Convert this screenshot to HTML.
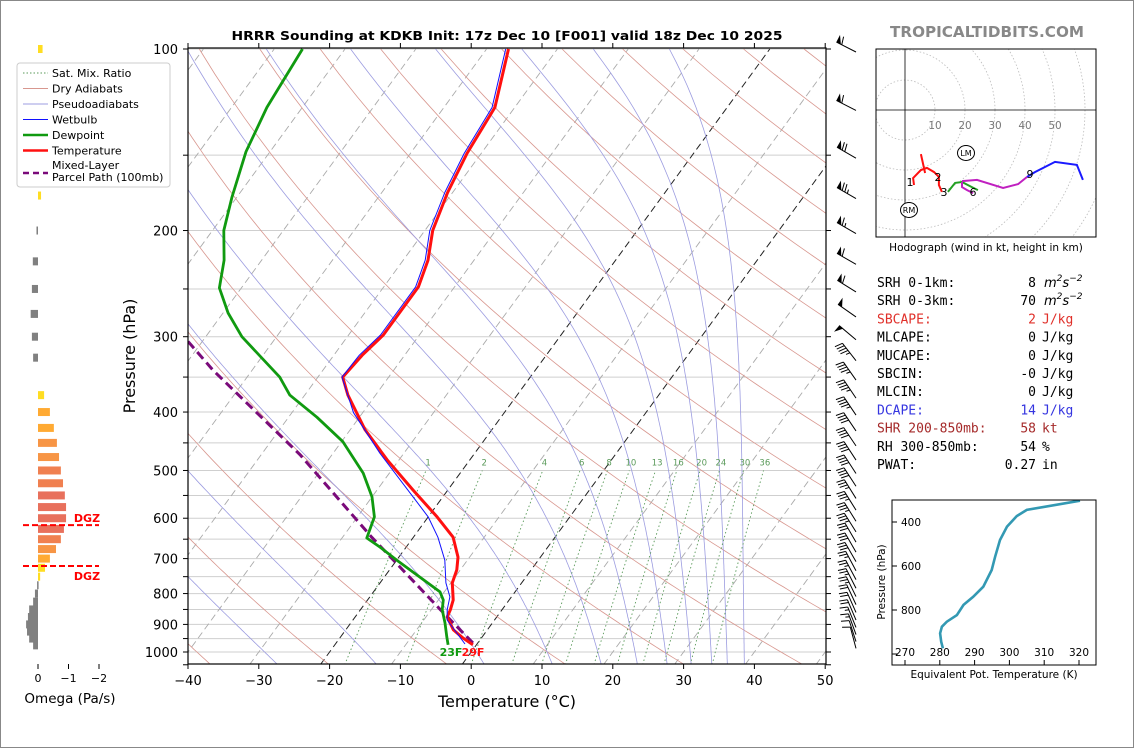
<!DOCTYPE html>
<html><head><meta charset="utf-8"><style>
html,body{margin:0;padding:0;background:#fff;}
svg{display:block;font-family:"DejaVu Sans","Liberation Sans",sans-serif;}
</style></head><body>
<svg id="svg" width="1134" height="748" viewBox="0 0 1134 748" xmlns="http://www.w3.org/2000/svg">
<rect x="0.5" y="0.5" width="1133" height="747" fill="#fff" stroke="#888"/>
<defs>
<clipPath id="plotclip"><rect x="188" y="48" width="638" height="616"/></clipPath>
<clipPath id="hodoclip"><rect x="876" y="49" width="220" height="188"/></clipPath>
<clipPath id="theclip"><rect x="892" y="500" width="204" height="165"/></clipPath>
</defs>
<text x="507" y="40" text-anchor="middle" font-size="12.5" font-weight="bold" textLength="551" lengthAdjust="spacingAndGlyphs">HRRR Sounding at KDKB Init: 17z Dec 10 [F001] valid 18z Dec 10 2025</text>
<text x="987" y="37" text-anchor="middle" font-size="15" font-weight="bold" fill="#888" textLength="194" lengthAdjust="spacingAndGlyphs">TROPICALTIDBITS.COM</text>
<g id="bg" clip-path="url(#plotclip)"></g>
<g id="prof" clip-path="url(#plotclip)"></g>
<g id="axes"></g>
<g id="barbs"></g>
<g id="omega"></g>
<g id="hodo"></g>
<g id="thetae"></g>
<g id="stats"></g>
<g id="legend"></g>
</svg>
<script>
// ---- data ----
const tempP=[973,948,919,875,851,820,768,731,696,645,597,539,480,428,375,350,322,298,248,224,200,173,149,125,100];
const tempT=[-0.5,-2.6,-4.8,-7.0,-7.3,-7.9,-9.8,-10.5,-11.65,-14.4,-18.75,-24.9,-31.7,-37.9,-43.9,-46.5,-46.0,-45.1,-45.1,-46.5,-48.9,-50.7,-52.0,-52.8,-56.9];
const dewP=[973,944,895,851,820,795,751,704,670,647,597,553,505,448,408,375,350,300,274,249,224,200,176,148,125,100];
const dewT=[-4.0,-5.0,-6.7,-8.45,-9.3,-10.6,-15.0,-20.0,-23.7,-26.5,-27.6,-30.0,-33.7,-39.8,-46.0,-52.1,-55.4,-64.9,-69.3,-73.1,-75.3,-78.4,-80.7,-83.4,-85.0,-86.0];
const wbP=[970,930,885,851,810,768,704,645,597,553,468,401,350,322,298,248,224,200,173,149,125,100];
const wbT=[-1.7,-4.0,-6.7,-7.75,-8.7,-10.7,-13.2,-16.55,-20.0,-24.2,-33.4,-41.3,-46.6,-46.4,-45.5,-45.5,-46.9,-49.3,-51.1,-52.4,-53.2,-57.3];
const parcelP=[966,851,645,471,341,305];
const parcelT=[-0.7,-8.7,-25.9,-44.5,-65.5,-72.1];
const mixRatios=[1,2,4,6,8,10,13,16,20,24,30,36];
const dryThetaK=[234.4,250.9,267.4,283.9,300.4,316.9,333.4,349.9,366.4,382.9,399.4,415.9,432.4,448.9,465.4,481.9,498.4,514.9,531.4];
const moistT1050=[-26,-12,3.2,12.8,19.7,24.8,29,32.4,35.3,37.5,39.9];
const xTicks=[-40,-30,-20,-10,0,10,20,30,40,50];
const pTicks=[100,200,300,400,500,600,700,800,900,1000];
const barbP=[100,125,150,175,200,225,250,275,300,325,350,375,400,425,450,475,500,525,550,575,600,625,650,675,700,725,750,775,800,825,850,875,900,925,950,975];
const barbSpd=[60,60,70,75,65,60,60,50,50,45,45,45,45,40,40,40,40,40,35,35,35,35,30,30,30,25,25,25,25,20,20,20,15,15,10,10];
const barbDir=[297,297,300,300,300,300,302,305,310,322,325,326,326,326,326,327,327,327,328,328,328,328,330,330,330,332,332,333,334,335,336,337,338,340,342,345];
const omegaP=[100,125,150,175,200,225,250,275,300,325,375,400,425,450,475,500,525,550,575,600,625,650,675,700,725,750,775,800,825,850,875,900,925,950,975];
const omegaV=[-0.15,-0.15,-0.15,-0.1,0.05,0.17,0.2,0.24,0.2,0.16,-0.2,-0.39,-0.52,-0.62,-0.69,-0.75,-0.82,-0.88,-0.92,-0.92,-0.85,-0.75,-0.59,-0.39,-0.23,-0.07,0.03,0.1,0.16,0.29,0.33,0.39,0.36,0.29,0.16];
const dgzP=[616,720];
const hodoRed=[[3,-25],[2.7,-22.7],[5.3,-20],[7.3,-19.3],[9.7,-20.7],[11.3,-22.3],[11.3,-25],[12.3,-27.3]];
const hodoRedSpike=[[5.3,-14.7],[6.7,-21]];
const hodoGreen=[[14.3,-27.3],[16.7,-24.3],[19,-24],[22.3,-25.7],[24.3,-26.7]];
const hodoMag1=[[19,-24],[19,-25.7],[20.7,-26.7],[22.7,-27.7]];
const hodoMag2=[[19,-23.7],[24,-23.3],[32.7,-26],[37.7,-24.7],[40.7,-22.3]];
const hodoBlue=[[40.7,-22.3],[43.3,-20.7],[50,-17.3],[57.3,-18.3],[59.3,-23.3]];
const thetaE=[320.3,305.0,302.1,299.3,297.3,295.9,294.9,292.5,289.6,286.8,284.9,282.0,280.6,280.1,280.4,280.9];
const thetaEP=[303,345,373,421,482,558,618,694,740,777,823,853,876,906,944,974];
const statLabels=["SRH 0-1km:","SRH 0-3km:","SBCAPE:","MLCAPE:","MUCAPE:","SBCIN:","MLCIN:","DCAPE:","SHR 200-850mb:","RH 300-850mb:","PWAT:"];
const statValues=["8","70","2","0","0","-0","0","14","58","54","0.27"];
const statUnits=["m2s-2","m2s-2","J/kg","J/kg","J/kg","J/kg","J/kg","J/kg","kt","%","in"];
const statColors=["#000","#000","#e0302a","#000","#000","#000","#000","#3535e0","#a52a2a","#000","#000"];

// ---- helpers ----
const NS="http://www.w3.org/2000/svg";
function mk(tag,attrs,parent,txt){const e=document.createElementNS(NS,tag);for(const k in attrs)e.setAttribute(k,attrs[k]);if(txt!==undefined)e.textContent=txt;parent.appendChild(e);return e;}
const yP=p=>49+(Math.log10(p)-2)*603;
const xT=(T,p)=>188+(T+40)*7.08+(652-yP(p))*0.73;
function pts(Ts,Ps){return Ts.map((t,i)=>xT(t,Ps[i]).toFixed(1)+","+yP(Ps[i]).toFixed(1)).join(" ");}
const bg=document.getElementById('bg'),prof=document.getElementById('prof'),axes=document.getElementById('axes');

// grid lines
for(let p=100;p<=1050;p+=50){const l=mk('line',{x1:188,x2:826,y1:yP(p),y2:yP(p),stroke:'#cfcfcf','stroke-width':1},bg);

}
// isotherms
for(let T=-120;T<=50;T+=10){const black=(T===0||T===-20);const l=mk('line',{x1:xT(T,1050),y1:yP(1050),x2:xT(T,100),y2:yP(100),stroke:black?'#222':'#aaa','stroke-width':black?1:0.9,'stroke-dasharray':'7,4'},bg);

}
// dry adiabats
dryThetaK.forEach(th=>{const a=[];for(let p=1050;p>=100;p-=10){const T=th*Math.pow(p/1000,0.286)-273.15;a.push(xT(T,p).toFixed(1)+","+yP(p).toFixed(1));}
const l=mk('polyline',{points:a.join(" "),fill:'none',stroke:'#d8978f','stroke-width':0.8},bg);

});
// moist adiabats
function esat(T){return 6.112*Math.exp(17.67*T/(T+243.5));}
function dTdp(TK,p){const es=esat(TK-273.15);const rs=0.622*es/(p-es);const Lv=2.501e6,Rd=287,Cp=1005;return (Rd*TK+Lv*rs)/(Cp+Lv*Lv*rs*0.622/(Rd*TK*TK))/p;}
moistT1050.forEach(T0=>{const a=[];let TK=T0+273.15;a.push(xT(T0,1050).toFixed(1)+","+yP(1050).toFixed(1));
for(let p=1050;p>100;p-=5){TK-=dTdp(TK,p)*5;a.push(xT(TK-273.15,p-5).toFixed(1)+","+yP(p-5).toFixed(1));}
const l=mk('polyline',{points:a.join(" "),fill:'none',stroke:'#9c9ce0','stroke-width':0.8},bg);

});
// mixing ratio lines
mixRatios.forEach(w=>{const a=[];for(let p=1050;p>=500;p-=10){const es=w*p/(622+w);const L=Math.log(es/6.112);const T=243.5*L/(17.67-L);a.push(xT(T,p).toFixed(1)+","+yP(p).toFixed(1));}
const l=mk('polyline',{points:a.join(" "),fill:'none',stroke:'#5a9a5a','stroke-width':0.9,'stroke-dasharray':'1.5,2.5'},bg);


const pl=491;const es=w*pl/(622+w);const L=Math.log(es/6.112);const T=243.5*L/(17.67-L);
const t=mk('text',{x:xT(T,pl),y:yP(pl),'font-size':8.5,fill:'#5a9a5a','text-anchor':'middle'},bg,String(w));

});

// profiles
let e;
e=mk('polyline',{points:pts(parcelT,parcelP),fill:'none',stroke:'#7a0a7a','stroke-width':3,'stroke-dasharray':'9,5'},prof);


e=mk('polyline',{points:pts(dewT,dewP),fill:'none',stroke:'#109a10','stroke-width':2.8,'stroke-linejoin':'round'},prof);


e=mk('polyline',{points:pts(tempT,tempP),fill:'none',stroke:'#ff1010','stroke-width':3,'stroke-linejoin':'round'},prof);


e=mk('polyline',{points:pts(wbT,wbP),fill:'none',stroke:'#1010ff','stroke-width':1,'stroke-linejoin':'round'},prof);


e=mk('text',{x:451,y:656,'font-size':11,'font-weight':'bold',fill:'#109a10','text-anchor':'middle'},prof,'23F');


e=mk('text',{x:473,y:656,'font-size':11,'font-weight':'bold',fill:'#ff1010','text-anchor':'middle'},prof,'29F');



// axes frame
e=mk('rect',{x:188,y:48,width:638,height:616,fill:'none',stroke:'#000','stroke-width':1.2},axes);


xTicks.forEach(T=>{const x=188+(T+40)*7.08;mk('line',{x1:x,x2:x,y1:664,y2:669,stroke:'#000'},axes);mk('line',{x1:x,x2:x,y1:48,y2:43,stroke:'#000'},axes);
const t=mk('text',{x:x,y:685,'font-size':13,'text-anchor':'middle'},axes,(T<0?'\u2212'+(-T):String(T)));

});
for(let p=100;p<=1050;p+=50){const y=yP(p);mk('line',{x1:183,x2:188,y1:y,y2:y,stroke:'#000'},axes);mk('line',{x1:826,x2:831,y1:y,y2:y,stroke:'#000'},axes);}
pTicks.forEach(p=>{const t=mk('text',{x:178,y:yP(p)+5,'font-size':13,'text-anchor':'end'},axes,String(p));

});
e=mk('text',{x:507,y:707,'font-size':16,'text-anchor':'middle'},axes,'Temperature (\u00B0C)');


e=mk('text',{x:135,y:356,'font-size':16,'text-anchor':'middle',transform:'rotate(-90 135 356)'},axes,'Pressure (hPa)');



// wind barbs
const bgp=document.getElementById('barbs');
barbP.forEach((p,i)=>{const bx=856,by=yP(p)+3;const d=barbDir[i]*Math.PI/180;const ux=Math.sin(d),uy=-Math.cos(d);const L=22;
const tx=bx+ux*L,ty=by+uy*L;const sx=-uy,sy=ux;const sd=(ux<-0.8)?1:-1;const px=sx*sd,py=sy*sd;
const g=mk('g',{},bgp);


mk('line',{x1:bx,y1:by,x2:tx,y2:ty,stroke:'#000','stroke-width':1},g);
let s=barbSpd[i];let pos=0;
while(s>=50){const ax=tx-ux*pos,ay=ty-uy*pos;const bx2=tx-ux*(pos+5),by2=ty-uy*(pos+5);
mk('polygon',{points:`${ax},${ay} ${bx2},${by2} ${ax+px*8},${ay+py*8}`,fill:'#000'},g);pos+=6;s-=50;}
while(s>=10){const ax=tx-ux*pos,ay=ty-uy*pos;mk('line',{x1:ax,y1:ay,x2:ax+px*8+ux*2,y2:ay+py*8+uy*2,stroke:'#000','stroke-width':1},g);pos+=3;s-=10;}
if(s>=5){if(pos===0)pos=3;const ax=tx-ux*pos,ay=ty-uy*pos;mk('line',{x1:ax,y1:ay,x2:ax+px*4+ux,y2:ay+py*4+uy,stroke:'#000','stroke-width':1},g);}
});

// omega panel
const og=document.getElementById('omega');
const ox0=38,ou=30.5;
omegaP.forEach((p,i)=>{const v=omegaV[i];const w=Math.abs(v)*ou;const y=yP(p)-4;let col='#808080';
if(v<0){const m=-v;col=m<0.25?'#ffdd22':m<0.55?'#ffaa33':m<0.7?'#f79545':m<0.85?'#f08050':'#e8705c';}
const x=v<0?ox0:ox0-w;const r=mk('rect',{x:x,y:y,width:Math.max(w,1.5),height:8,fill:col},og);

});
dgzP.forEach((p,i)=>{const y=yP(p);const l=mk('line',{x1:23,x2:99,y1:y,y2:y,stroke:'#ff0000','stroke-width':2,'stroke-dasharray':'6,3'},og);


const t=mk('text',{x:87,y:i===0?y-3:y+14,'font-size':11,'font-weight':'bold',fill:'#ff0000','text-anchor':'middle'},og,'DGZ');

});
[0,-1,-2].forEach(v=>{const x=ox0-v*ou;mk('line',{x1:x,x2:x,y1:664,y2:669,stroke:'#000'},og);
const t=mk('text',{x:x,y:682,'font-size':11,'text-anchor':'middle'},og,v===0?'0':'\u2212'+(-v));

});
e=mk('text',{x:70,y:703,'font-size':13.5,'text-anchor':'middle'},og,'Omega (Pa/s)');



// hodograph
const hg=document.getElementById('hodo');const hx=905,hy=110,hs=3;
const hc=mk('g',{'clip-path':'url(#hodoclip)'},hg);
[10,20,30,40,50,60,70].forEach(r=>{const c=mk('circle',{cx:hx,cy:hy,r:r*hs,fill:'none',stroke:'#bbb','stroke-width':0.8,'stroke-dasharray':'1.5,2'},hc);

});
mk('line',{x1:hx,x2:hx,y1:49,y2:237,stroke:'#000','stroke-width':0.8},hc);
mk('line',{x1:876,x2:1096,y1:hy,y2:hy,stroke:'#000','stroke-width':0.8},hc);
[10,20,30,40,50].forEach(r=>{const t=mk('text',{x:hx+r*hs,y:hy+19,'font-size':10.5,fill:'#777','text-anchor':'middle'},hc,String(r));

});
function hline(arr,col,name){const l=mk('polyline',{points:arr.map(a=>(hx+a[0]*hs).toFixed(1)+","+(hy-a[1]*hs).toFixed(1)).join(" "),fill:'none',stroke:col,'stroke-width':2},hc);

}
hline(hodoRed,'#ff1010','hodograph-0-3km');hline(hodoRedSpike,'#ff1010','hodograph-0-1km');
hline(hodoGreen,'#22a022','hodograph-3-6km');hline(hodoMag1,'#c020c0','hodograph-6-9km-a');hline(hodoMag2,'#c020c0','hodograph-6-9km');hline(hodoBlue,'#1a1aff','hodograph-9km-plus');
[['1',910,186],['2',938,181],['3',944,196],['6',973,196],['9',1030,178]].forEach(a=>{const t=mk('text',{x:a[1],y:a[2],'font-size':11,'text-anchor':'middle'},hc,a[0]);

});
[['LM',966,153],['RM',909,210]].forEach(a=>{mk('ellipse',{cx:a[1],cy:a[2],rx:8.5,ry:7.5,fill:'#fff',stroke:'#000','stroke-width':1},hc);
const t=mk('text',{x:a[1],y:a[2]+3,'font-size':8,'text-anchor':'middle'},hc,a[0]);

});
e=mk('rect',{x:876,y:49,width:220,height:188,fill:'none',stroke:'#000','stroke-width':1},hg);


e=mk('text',{x:986,y:251,'font-size':10.5,'text-anchor':'middle'},hg,'Hodograph (wind in kt, height in km)');



// theta-e panel
const tg=document.getElementById('thetae');
const tX=th=>905+(th-270)*3.48, tY=p=>522+(p-400)*0.22;
e=mk('polyline',{points:thetaE.map((t,i)=>tX(t).toFixed(1)+","+tY(thetaEP[i]).toFixed(1)).join(" "),fill:'none',stroke:'#3399b3','stroke-width':2.6,'clip-path':'url(#theclip)'},tg);


e=mk('rect',{x:892,y:500,width:204,height:165,fill:'none',stroke:'#000','stroke-width':1},tg);


[400,600,800,1000].forEach(p=>{mk('line',{x1:892,x2:897,y1:tY(p),y2:tY(p),stroke:'#000'},tg);
if(p<1000){const t=mk('text',{x:901,y:tY(p)+4,'font-size':10.5},tg,String(p));

}});
[270,280,290,300,310,320].forEach(v=>{mk('line',{x1:tX(v),x2:tX(v),y1:665,y2:660,stroke:'#000'},tg);
const t=mk('text',{x:tX(v),y:656,'font-size':10.5,'text-anchor':'middle'},tg,String(v));

});
e=mk('text',{x:994,y:678,'font-size':10.5,'text-anchor':'middle'},tg,'Equivalent Pot. Temperature (K)');


e=mk('text',{x:885,y:582,'font-size':10.5,'text-anchor':'middle',transform:'rotate(-90 885 582)'},tg,'Pressure (hPa)');



// stats
const sg=document.getElementById('stats');
statLabels.forEach((s,i)=>{const y=287+i*18.2;const c=statColors[i];const f='"DejaVu Sans Mono","Liberation Mono",monospace';
let t=mk('text',{x:877,y:y,'font-size':13,fill:c,'font-family':f},sg,s);


t=mk('text',{x:1036,y:y,'font-size':13,fill:c,'font-family':f,'text-anchor':'end'},sg,statValues[i]);


if(statUnits[i]==='m2s-2'){t=mk('text',{x:1044,y:y,'font-size':13,fill:c,'font-style':'italic'},sg);


t.innerHTML='m<tspan font-size="9" dy="-6">2</tspan><tspan dy="6">s</tspan><tspan font-size="9" dy="-6">\u22122</tspan>';}
else{t=mk('text',{x:1042,y:y,'font-size':13,fill:c,'font-family':f},sg,statUnits[i]);

}});

// legend
const lg=document.getElementById('legend');
e=mk('rect',{x:17,y:63,width:153,height:124,rx:3,fill:'#fff',stroke:'#ccc','stroke-width':1},lg);


const legItems=[['Sat. Mix. Ratio','#5a9a5a',0.9,'1.5,2',73],['Dry Adiabats','#d8978f',1,'',88.5],['Pseudoadiabats','#9c9ce0',1,'',104],['Wetbulb','#1010ff',1,'',119.5],['Dewpoint','#109a10',2.5,'',135],['Temperature','#ff1010',2.5,'',150.5]];
legItems.forEach(it=>{const y=it[4];mk('line',{x1:23,x2:48,y1:y,y2:y,stroke:it[1],'stroke-width':it[2],'stroke-dasharray':it[3]},lg);
const t=mk('text',{x:52,y:y+4,'font-size':11},lg,it[0]);

});
mk('line',{x1:23,x2:48,y1:173,y2:173,stroke:'#7a0a7a','stroke-width':2.5,'stroke-dasharray':'6,4'},lg);
e=mk('text',{x:52,y:169,'font-size':11},lg,'Mixed-Layer');


e=mk('text',{x:52,y:181,'font-size':11},lg,'Parcel Path (100mb)');


</script>
</body></html>
